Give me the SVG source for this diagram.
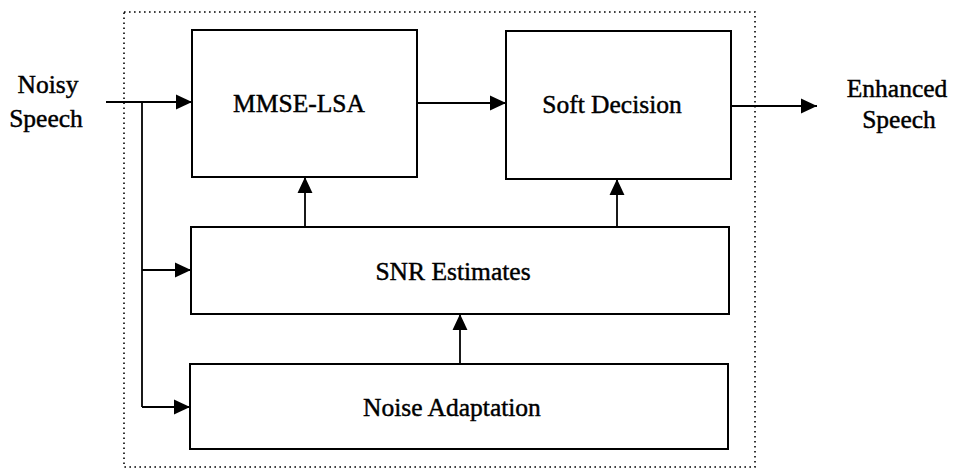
<svg xmlns="http://www.w3.org/2000/svg" width="954" height="470" viewBox="0 0 954 470">
<style>
.box{fill:#fff;stroke:#000;stroke-width:2}
.lbl{font-family:"Liberation Serif","Times New Roman",serif;font-size:25.5px;fill:#000;stroke:#000;stroke-width:0.45;text-anchor:middle}
.ln{fill:none;stroke:#000;stroke-width:1.8}
.ar{marker-end:url(#ah)}
.dot{fill:none;stroke:#000;stroke-width:1.6;stroke-dasharray:1.6 3.4}
</style>
<defs>
<marker id="ah" markerUnits="userSpaceOnUse" markerWidth="16" markerHeight="16" viewBox="0 0 15 14" refX="15" refY="7" orient="auto">
<path d="M0,0 L15,7 L0,14 Z" fill="#000"/>
</marker>
</defs>
<rect id="boundary" class="dot" x="124" y="12" width="631" height="455"/>
<g id="connectors">
<path class="ln ar" d="M106,102 H192"/>
<path class="ln" d="M142,102 V407"/>
<path class="ln ar" d="M142,270 H191"/>
<path class="ln ar" d="M142,407 H190"/>
<path class="ln ar" d="M417,103 H506"/>
<path class="ln ar" d="M731,106 H817"/>
<path class="ln ar" d="M305,227 V177"/>
<path class="ln ar" d="M617,228 V179"/>
<path class="ln ar" d="M460,364 V314"/>
</g>
<g id="input">
<text class="lbl" x="48" y="93">Noisy</text>
<text class="lbl" x="46" y="127">Speech</text>
</g>
<g id="output">
<text class="lbl" x="897" y="97">Enhanced</text>
<text class="lbl" x="899" y="128">Speech</text>
</g>
<g id="mmse">
<rect class="box" x="192" y="30" width="225" height="147"/>
<text class="lbl" x="299" y="112">MMSE-LSA</text>
</g>
<g id="soft">
<rect class="box" x="506" y="31" width="225" height="148"/>
<text class="lbl" x="612" y="113">Soft Decision</text>
</g>
<g id="snr">
<rect class="box" x="191" y="227" width="538" height="87"/>
<text class="lbl" x="453" y="280">SNR Estimates</text>
</g>
<g id="noise">
<rect class="box" x="190" y="364" width="538" height="85"/>
<text class="lbl" x="452" y="416">Noise Adaptation</text>
</g>
</svg>
